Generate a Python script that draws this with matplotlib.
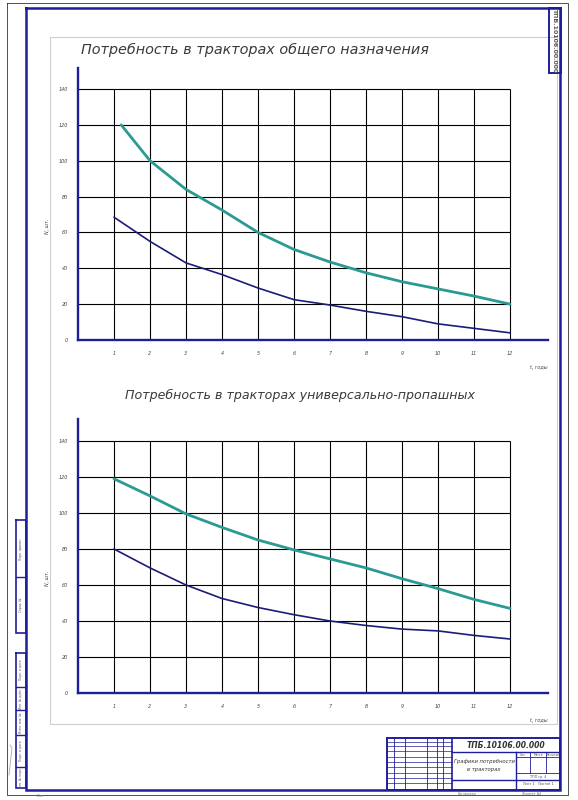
import numpy as np
import matplotlib
matplotlib.use("Agg")
import matplotlib.pyplot as plt

years = np.arange(1, 13)
y_ticks = [0, 20, 40, 60, 80, 100, 120, 140]

# Потребность в тракторах общего назначения
gen_top_x = np.array([1.2, 2, 3, 4, 5, 6, 7, 8, 9, 10, 11, 12])
gen_top = np.array([120, 100, 84, 72.5, 60, 50.5, 43.5, 37.5, 32.5, 28.5, 24.5, 20])
gen_low = np.array([68.5, 55, 43, 36.5, 29, 22.5, 19.5, 16, 13, 9, 6.5, 4])

# Потребность в тракторах универсально-пропашных
row_top = np.array([119, 109.5, 99.5, 92, 85, 79.5, 74.5, 69.5, 63.5, 58, 52, 47])
row_low = np.array([80, 69.5, 60, 52.5, 47.5, 43.5, 40, 37.5, 35.5, 34.5, 32, 30])

W, H = 578, 800
BLUE = "#1e1e9a"
TEAL = "#2a9a93"
NAVY = "#1c1c78"
GREY_TXT = "#444444"

fig = plt.figure(figsize=(W / 100, H / 100), dpi=100)
fig.patch.set_facecolor("white")

# фоновая ось в пикселях для рамки и штампа
bg = fig.add_axes([0, 0, 1, 1])
bg.set_xlim(0, W)
bg.set_ylim(H, 0)
bg.axis("off")


def rect(x0, y0, x1, y1, color, lw):
    bg.plot([x0, x1, x1, x0, x0], [y0, y0, y1, y1, y0], color=color, lw=lw,
            solid_joinstyle="miter")


def hl(y, x0, x1, lw=0.6, color=BLUE):
    bg.plot([x0, x1], [y, y], color=color, lw=lw)


def vl(x, y0, y1, lw=0.6, color=BLUE):
    bg.plot([x, x], [y0, y1], color=color, lw=lw)


rect(7, 3, 568, 795, "#333333", 0.6)
rect(50, 37, 557, 724, "#cfcfcf", 0.8)
rect(26, 8, 560, 790, BLUE, 1.8)

# штамп в правом верхнем углу
rect(549, 8, 561, 73, BLUE, 1.4)
bg.text(555, 40, "ТПБ.10106.00.000", rotation=270, ha="center", va="center",
        fontsize=4.5, color="#555555", fontweight="bold")

# боковые полосы слева
rect(16, 520, 26, 633, BLUE, 1.2)
hl(577, 16, 26, 1.0)
rect(16, 653, 26, 788, BLUE, 1.2)
for yy in [687, 710, 735, 767]:
    hl(yy, 16, 26, 1.0)
for (y0, y1, s) in [(520, 577, "Перв. примен."), (577, 633, "Справ. №"),
                    (653, 687, "Подп. и дата"), (687, 710, "Инв. № дубл."),
                    (710, 735, "Взам. инв. №"), (735, 767, "Подп. и дата"),
                    (767, 788, "Инв. № подл.")]:
    bg.text(21, (y0 + y1) / 2, s, rotation=90, ha="center", va="center",
            fontsize=2.2, color="#555555")
bg.plot([9, 12, 10], [775, 748, 745], color="#aaaaaa", lw=0.6)

# основная надпись
rect(387, 738, 560, 790, BLUE, 1.4)
hl(752, 452, 560, 1.0)
vl(452, 738, 790, 1.2)
vl(516, 752, 790, 1.0)
hl(780, 452, 560, 1.0)
hl(757, 516, 560, 0.6)
hl(773, 516, 560, 0.6)
vl(530, 752, 773, 0.6)
vl(546, 752, 773, 0.6)
for xx in [394, 405, 427, 437, 443]:
    vl(xx, 738, 790, 0.6)
for yy in [742, 746, 751, 757, 762, 767, 773, 778, 783]:
    hl(yy, 387, 452, 0.5)
bg.text(506, 745.5, "ТПБ.10106.00.000", ha="center", va="center",
        fontsize=5.5, style="italic", fontweight="bold", color="#333333")
bg.text(484, 762, "Графики потребности", ha="center", va="center",
        fontsize=3.8, style="italic", color="#333333")
bg.text(484, 770, "в тракторах", ha="center", va="center",
        fontsize=3.8, style="italic", color="#333333")
for xc, s in [(523, "Лит."), (538, "Масса"), (553, "Масштаб")]:
    bg.text(xc, 754.5, s, ha="center", va="center", fontsize=2.2, color="#555555")
bg.text(538, 777, "ТПП гр. 4", ha="center", va="center", fontsize=2.4,
        color="#555555")
bg.text(538, 784, "Лист 1   Листов 1", ha="center", va="center", fontsize=2.4,
        color="#555555")
bg.text(467, 794, "Копировал", ha="center", va="center", fontsize=2.4,
        color="#777777")
bg.text(532, 794, "Формат А4", ha="center", va="center", fontsize=2.4,
        color="#777777")
bg.text(40, 796, "Инв", ha="center", va="center", fontsize=2.4, color="#777777")


def chart(top_px, zero_px, grid_top_px, lines, title, title_x, title_y, fs):
    left_px, right_px, x12_px = 78, 548, 510
    upx = (x12_px - left_px) / 12
    upy = (zero_px - grid_top_px) / 140
    ax = fig.add_axes([left_px / W, 1 - zero_px / H,
                       (right_px - left_px) / W, (zero_px - top_px) / H])
    ax.set_xlim(0, (right_px - left_px) / upx)
    ax.set_ylim(0, (zero_px - top_px) / upy)
    ax.patch.set_alpha(0)
    for side in ["top", "right"]:
        ax.spines[side].set_visible(False)
    for side in ["left", "bottom"]:
        ax.spines[side].set_color(BLUE)
        ax.spines[side].set_linewidth(1.7)
    ax.hlines(y_ticks[1:], 0, years[-1], color="black", lw=0.8, zorder=1)
    ax.vlines(years, 0, y_ticks[-1], color="black", lw=0.8, zorder=1)
    for xs, ys, c, lw in lines:
        ax.plot(xs, ys, color=c, lw=lw, zorder=3, solid_capstyle="round",
                solid_joinstyle="round")
    ax.set_xticks(years)
    ax.set_xticklabels([str(v) for v in years], fontsize=3.5, style="italic",
                       color=GREY_TXT)
    ax.set_yticks(y_ticks)
    ax.set_yticklabels([str(v) for v in y_ticks], fontsize=3.5, style="italic",
                       color=GREY_TXT)
    ax.tick_params(axis="x", length=0, pad=8)
    ax.tick_params(axis="y", length=0, pad=7)
    ax.text(-0.065, 0.42, "N, шт.", transform=ax.transAxes, rotation=90,
            ha="center", va="center", fontsize=3.5, style="italic", color=GREY_TXT)
    ax.text(1.0, -0.1, "t, годы", transform=ax.transAxes, ha="right",
            va="center", fontsize=3.5, style="italic", color=GREY_TXT)
    fig.text(title_x / W, 1 - title_y / H, title, ha="center", va="center",
             fontsize=fs, style="italic", color="#3a3a3a")
    return ax


chart(68, 340, 89,
      [(gen_top_x, gen_top, TEAL, 2.0), (years, gen_low, NAVY, 1.2)],
      "Потребность в тракторах общего назначения", 255, 50, 10.4)
chart(419, 693, 441,
      [(years, row_top, TEAL, 2.0), (years, row_low, NAVY, 1.2)],
      "Потребность в тракторах универсально-пропашных", 300, 395, 9.1)

fig.savefig("out.png", dpi=100, facecolor="white")
